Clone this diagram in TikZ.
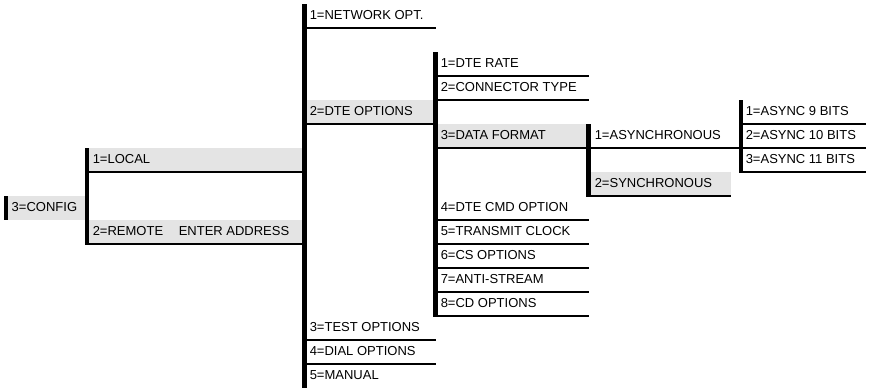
\documentclass[tikz,border=0pt]{standalone}
\usepackage{fontspec}
\setmainfont{Liberation Sans}
\definecolor{menugrey}{HTML}{E4E4E4}
\begin{document}
\begin{tikzpicture}[x=1pt,y=-1pt,line width=1.5pt,
    item/.style={anchor=base west,inner sep=0pt,font=\fontsize{13}{15}\selectfont},
    bar/.style={line width=4.5pt}]
\useasboundingbox (0,0) rectangle (872,388);
% grey boxes of the selected path
\fill[menugrey] (8,196) rectangle (85,220);
\fill[menugrey] (89,148) rectangle (302,172);
\fill[menugrey] (89,220) rectangle (302,244);
\fill[menugrey] (307,100) rectangle (433,124);
\fill[menugrey] (438,124) rectangle (586,148);
\fill[menugrey] (591,172) rectangle (731,196);
% level 0
\node[item] (config) at (11,211.5){3=CONFIG};
% level 1
\foreach \r/\n/\txt in {6/local/1=LOCAL,9/remote/2=REMOTE}
{
    \draw (89,28+24*\r)--(302,28+24*\r);
    \node[item] (\n) at (92,19.5+24*\r){\txt};
}
\node[item] (enteraddr) at (178,19.5+24*9){ENTER ADDRESS};
% level 2
\foreach \r/\n/\txt in {0/netopt/1=NETWORK OPT.,4/dteopt/2=DTE OPTIONS,13/testopt/3=TEST OPTIONS,14/dialopt/4=DIAL OPTIONS}
{
    \draw (307,28+24*\r)--(436,28+24*\r);
    \node[item] (\n) at (309,19.5+24*\r){\txt};
}
\node[item] (manual) at (309,19.5+24*15){5=MANUAL};
% level 3
\foreach \r/\n/\txt in {2/dterate/1=DTE RATE,3/conntype/2=CONNECTOR TYPE,8/dtecmd/4=DTE CMD OPTION,9/txclock/5=TRANSMIT CLOCK,10/csopt/6=CS OPTIONS,11/antistream/7=ANTI-STREAM,12/cdopt/8=CD OPTIONS}
{
    \draw (438,28+24*\r)--(589,28+24*\r);
    \node[item] (\n) at (440,19.5+24*\r){\txt};
}
\draw (438,148)--(739,148);
\node[item] (datafmt) at (440,139.5){3=DATA FORMAT};
% level 4
\node[item] (async) at (594,139.5){1=ASYNCHRONOUS};
\draw (591,196)--(731,196);
\node[item] (sync) at (594,187.5){2=SYNCHRONOUS};
% level 5
\foreach \r/\n/\txt in {4/asyncnine/1=ASYNC 9 BITS,5/asyncten/2=ASYNC 10 BITS,6/asynceleven/3=ASYNC 11 BITS}
{
    \draw (743,28+24*\r)--(866,28+24*\r);
    \node[item] (\n) at (745,19.5+24*\r){\txt};
}
% vertical bars
\draw[bar] (6,196)--(6,220);
\draw[bar] (87,148)--(87,245);
\draw[bar] (304.5,4)--(304.5,388);
\draw[bar] (435.5,52)--(435.5,317);
\draw[bar] (588.5,124)--(588.5,197);
\draw[bar] (741,100)--(741,173);
\end{tikzpicture}
\end{document}
